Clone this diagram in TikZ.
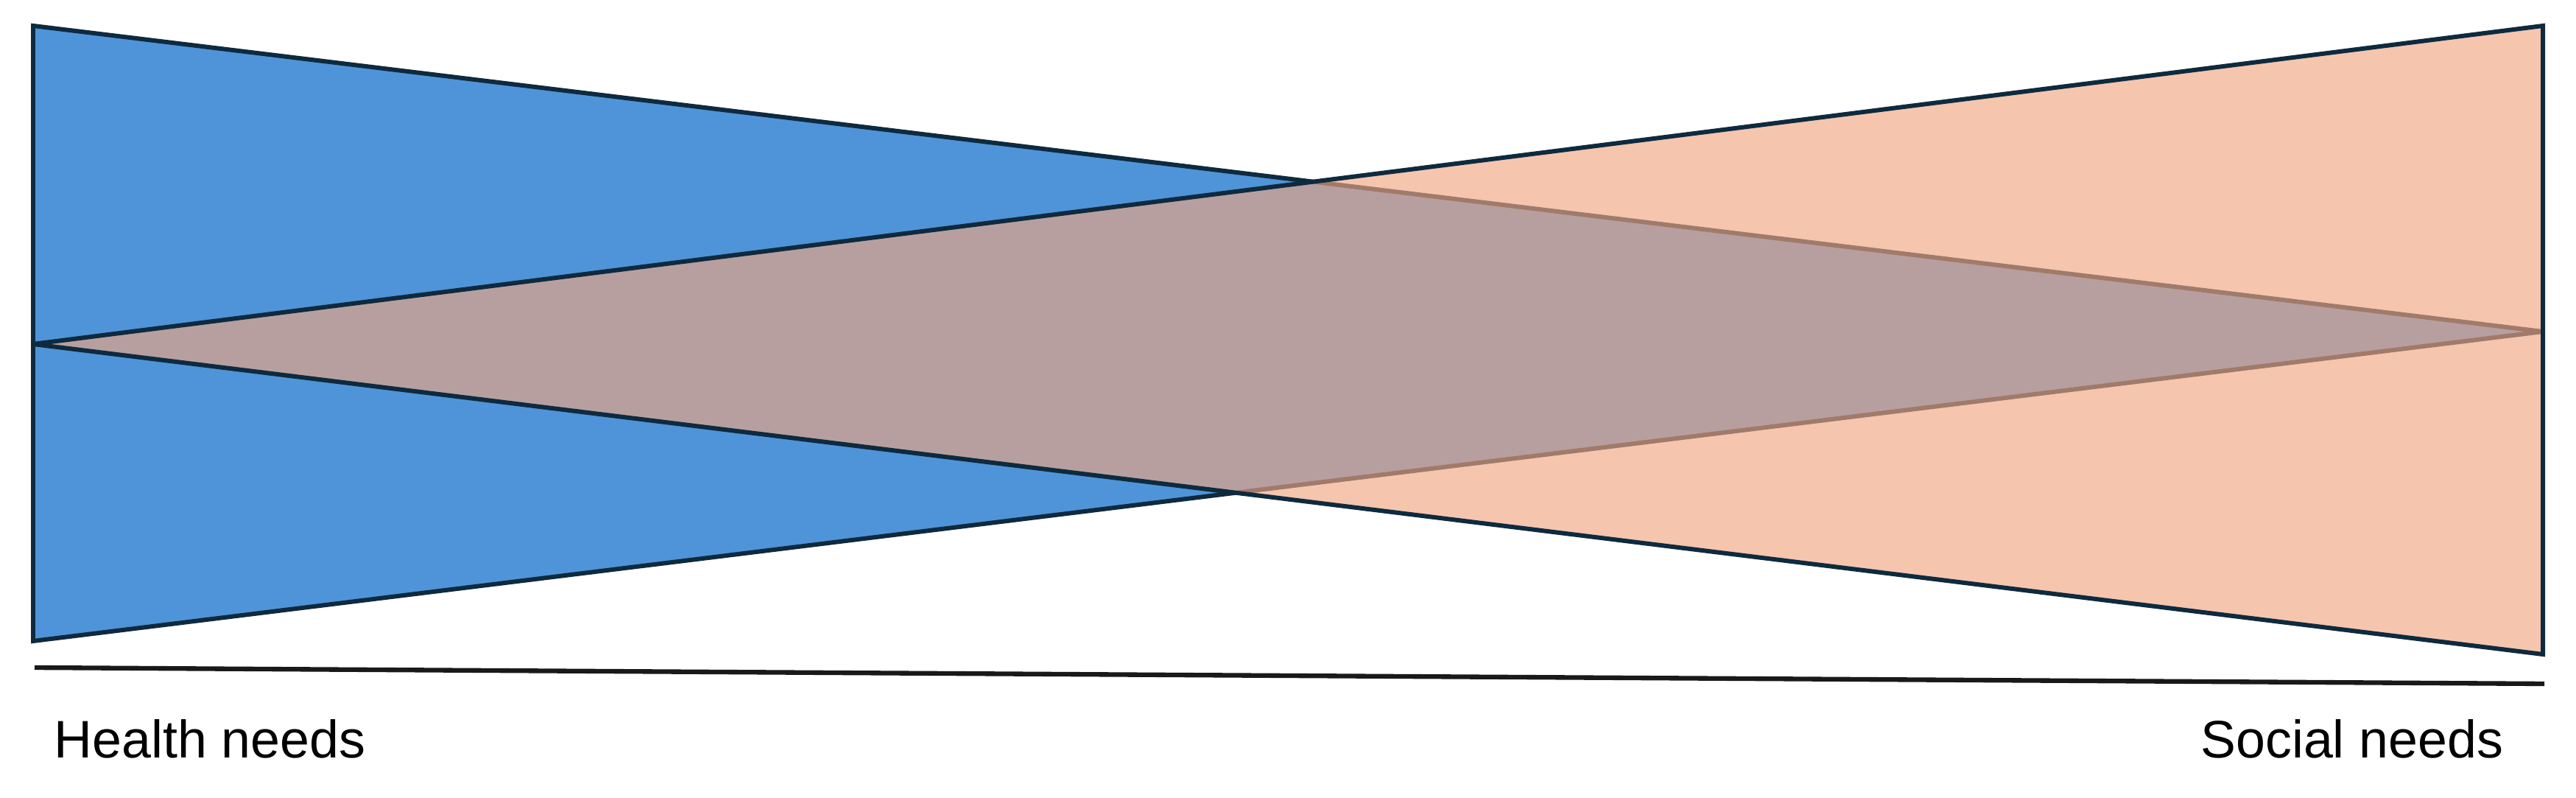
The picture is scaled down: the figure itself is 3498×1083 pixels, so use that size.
\documentclass[tikz,border=0pt]{standalone}
\usepackage{fontspec}
\setmainfont{Liberation Sans}
\definecolor{healthblue}{RGB}{79,148,216}
\definecolor{socialpink}{RGB}{240,166,130}
\definecolor{edgenavy}{RGB}{14,42,62}
\tikzset{
	wedge/.style={draw=edgenavy,line width=1.7pt,line join=miter,miter limit=4},
	needlabel/.style={inner sep=0pt,font=\fontsize{20.4}{24}\selectfont}
}
\begin{document}
\begin{tikzpicture}[x=0.01cm,y=-0.01cm]
				\useasboundingbox (0,0) rectangle (3498,1083);
				
				\coordinate (healthtop) at (45,35);
				\coordinate (healthbottom) at (45,870);
				\coordinate (healthtip) at (3453,450);
				\coordinate (socialtop) at (3453,35);
				\coordinate (socialbottom) at (3453,888);
				\coordinate (socialtip) at (45,467);
				\coordinate (axisleft) at (47,906);
				\coordinate (axisright) at (3455,928);
				
				\draw [wedge,fill=healthblue] (healthtop) -- (healthbottom) -- (healthtip) -- cycle;
				\draw [wedge,fill=socialpink,fill opacity=0.65] (socialtop) -- (socialbottom) -- (socialtip) -- cycle;
				\draw [line width=1.8pt,black!90] (axisleft) -- (axisright);
				
				\begin{scope}[every node/.style={needlabel}]
					\node (health) [anchor=base west] at (73,1028) {Health needs};
					\node (social) [anchor=base east] at (3400,1028) {Social needs};
				\end{scope}
			\end{tikzpicture}
\end{document}
